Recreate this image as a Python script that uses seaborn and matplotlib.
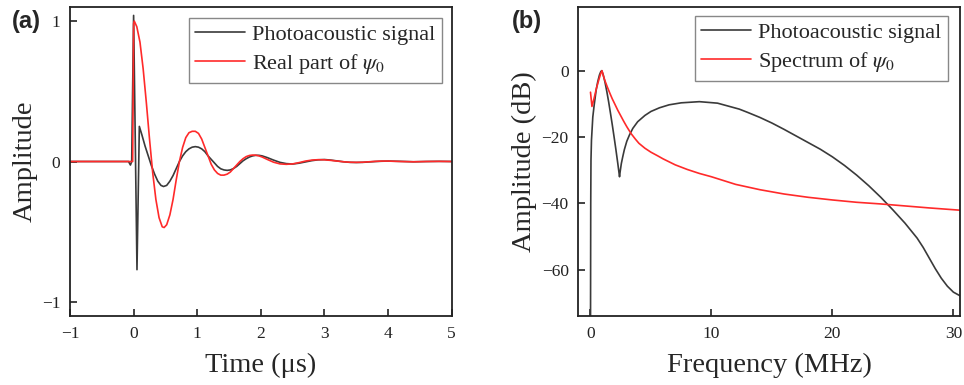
import numpy as np
import pandas as pd
import matplotlib
matplotlib.use("Agg")
import matplotlib.pyplot as plt
import seaborn as sns

# ---- (a) time-domain signals ----
t_pa = [-1.0, -0.08, -0.05, -0.03, 0.0, 0.053, 0.09, 0.13, 0.18, 0.23, 0.28, 0.33,
        0.38, 0.43, 0.47, 0.52, 0.57, 0.62, 0.67, 0.72, 0.77, 0.82, 0.87, 0.92,
        0.97, 1.02, 1.07, 1.12, 1.17, 1.22, 1.27, 1.32, 1.37, 1.42, 1.47, 1.52,
        1.57, 1.62, 1.67, 1.72, 1.77, 1.82, 1.87, 1.92, 1.97, 2.02, 2.1, 2.2,
        2.3, 2.4, 2.5, 2.6, 2.7, 2.8, 2.9, 3.0, 3.1, 3.2, 3.3, 3.4, 3.5, 3.6,
        3.7, 3.8, 3.9, 4.0, 4.2, 4.4, 4.6, 4.8, 5.0]
v_pa = [0.0, 0.0, -0.025, 0.0, 1.04, -0.77, 0.25, 0.19, 0.11, 0.04, -0.03, -0.09,
        -0.14, -0.17, -0.178, -0.17, -0.14, -0.10, -0.05, 0.0, 0.04, 0.07, 0.09, 0.102,
        0.106, 0.102, 0.09, 0.07, 0.04, 0.015, -0.01, -0.035, -0.052, -0.06, -0.063, -0.06,
        -0.05, -0.035, -0.015, 0.005, 0.02, 0.032, 0.04, 0.044, 0.044, 0.04, 0.028, 0.01,
        -0.006, -0.015, -0.018, -0.012, -0.003, 0.006, 0.012, 0.014, 0.01, 0.004, -0.002, -0.006, -0.007, -0.006,
        -0.003, 0.0, 0.002, 0.003, 0.001, -0.002, 0.0, 0.001, 0.0]

t_psi = [-1.0, -0.015, 0.0, 0.01, 0.05, 0.10, 0.15, 0.20, 0.25, 0.30, 0.35, 0.40,
         0.45, 0.48, 0.52, 0.57, 0.62, 0.67, 0.72, 0.77, 0.82, 0.87, 0.92, 0.97,
         1.02, 1.07, 1.12, 1.17, 1.22, 1.27, 1.32, 1.37, 1.42, 1.47, 1.52, 1.57,
         1.62, 1.67, 1.72, 1.77, 1.82, 1.87, 1.92, 1.97, 2.02, 2.1, 2.2, 2.3,
         2.4, 2.5, 2.6, 2.7, 2.8, 2.9, 3.0, 3.1, 3.2, 3.3, 3.4, 3.5, 3.6, 3.7,
         3.8, 3.9, 4.0, 4.2, 4.4, 4.6, 4.8, 5.0]
v_psi = [0.0, 0.0, 0.98, 1.0, 0.96, 0.85, 0.66, 0.42, 0.16, -0.08, -0.27, -0.40,
         -0.465, -0.47, -0.45, -0.38, -0.27, -0.13, 0.0, 0.10, 0.17, 0.205, 0.215, 0.215,
         0.20, 0.16, 0.10, 0.04, -0.02, -0.06, -0.085, -0.097, -0.097, -0.09, -0.075, -0.05,
         -0.025, 0.0, 0.02, 0.035, 0.043, 0.046, 0.045, 0.04, 0.032, 0.015, -0.005, -0.017,
         -0.02, -0.017, -0.008, 0.003, 0.01, 0.013, 0.012, 0.008, 0.003, -0.002, -0.005, -0.006, -0.005, -0.002,
         0.001, 0.003, 0.003, 0.0, -0.002, 0.0, 0.001, 0.0]

# ---- (b) spectra ----
f_pa = [0.0, 0.02, 0.04, 0.08, 0.19, 0.3, 0.47, 0.6, 0.74, 0.85, 0.93, 1.05, 1.2,
        1.35, 1.5, 1.65, 1.8, 1.95, 2.1, 2.25, 2.4, 2.45, 2.55, 2.67, 2.8, 3.0,
        3.22, 3.5, 3.9, 4.5, 5.0, 5.7, 6.5, 7.5, 9.0, 10.5, 12.3, 13.0, 14.0,
        15.0, 16.0, 17.0, 18.0, 19.0, 20.0, 21.0, 22.0, 23.0, 24.0, 25.0, 26.0,
        27.0, 27.5, 28.0, 28.5, 29.0, 29.5, 30.0, 30.6]
db_pa = [-80, -40, -27, -21, -14, -10.5, -5.8, -3.3, -1.3, -0.3, 0.0, -1.2, -3.5,
         -6.3, -9.4, -12.8, -16.3, -20.0, -23.8, -27.8, -32.0, -30.5, -28.0, -25.9, -23.8, -21.3,
         -19.4, -17.4, -15.4, -13.5, -12.3, -11.2, -10.3, -9.7, -9.35, -9.8, -11.6, -12.6, -14.1,
         -15.8, -17.7, -19.7, -21.7, -23.7, -26.0, -28.6, -31.5, -34.7, -38.2, -42.0, -46.0,
         -50.5, -53.3, -56.5, -59.7, -62.6, -65.0, -66.8, -68.0]

f_psi = [0.0, 0.12, 0.3, 0.5, 0.7, 0.85, 0.95, 1.05, 1.2, 1.4, 1.6, 1.8, 2.0, 2.25,
         2.5, 2.75, 3.0, 3.36, 3.7, 4.0, 4.5, 5.0, 5.56, 6.0, 7.0, 8.0, 9.0,
         10.0, 12.0, 14.0, 16.0, 18.0, 20.0, 22.0, 24.0, 26.0, 28.0, 30.6]
db_psi = [-6.5, -10.8, -8.3, -5.2, -2.6, -0.8, 0.0, -1.4, -3.1, -5.0, -6.8, -8.5, -10.0, -11.9,
          -13.6, -15.3, -16.9, -19.0, -20.6, -21.9, -23.4, -24.6, -25.7, -26.6, -28.4, -29.8, -31.0,
          -32.0, -34.3, -35.9, -37.2, -38.2, -39.0, -39.7, -40.2, -40.8, -41.4, -42.1]

BLACK = "#3a3a3a"
RED = "#ff2a2a"

sns.set_theme(style="ticks")
plt.rcParams.update({
    "font.family": ["Liberation Serif", "DejaVu Serif"],
    "mathtext.fontset": "stix",
    "axes.linewidth": 1.3,
    "axes.edgecolor": "#222222",
    "xtick.direction": "in",
    "ytick.direction": "in",
    "xtick.major.size": 5,
    "ytick.major.size": 5,
    "xtick.major.width": 1.2,
    "ytick.major.width": 1.2,
    "xtick.labelsize": 12.5,
    "ytick.labelsize": 12.5,
    "xtick.color": "#222222",
    "ytick.color": "#222222",
})

fig = plt.figure(figsize=(9.64, 3.85), dpi=100)
ax1 = fig.add_axes([0.0726, 0.1792, 0.396, 0.8026])
ax2 = fig.add_axes([0.6000, 0.1792, 0.3959, 0.8026])

df_a1 = pd.DataFrame({"t": t_pa, "v": v_pa})
df_a2 = pd.DataFrame({"t": t_psi, "v": v_psi})
sns.lineplot(data=df_a1, x="t", y="v", ax=ax1, color=BLACK, lw=1.2, sort=False,
             estimator=None, label="Photoacoustic signal")
sns.lineplot(data=df_a2, x="t", y="v", ax=ax1, color=RED, lw=1.2, sort=False,
             estimator=None, label=r"Real part of $\psi_0$")
ax1.set_xlim(-1, 5)
ax1.set_ylim(-1.1, 1.1)
ax1.set_xticks([-1, 0, 1, 2, 3, 4, 5])
ax1.set_yticks([-1, 0, 1])
ax1.set_xlabel("Time (μs)", fontsize=20.5, labelpad=8)
ax1.set_ylabel("Amplitude", fontsize=20.5, labelpad=3)

df_b1 = pd.DataFrame({"f": f_pa, "db": db_pa})
df_b2 = pd.DataFrame({"f": f_psi, "db": db_psi})
sns.lineplot(data=df_b1, x="f", y="db", ax=ax2, color=BLACK, lw=1.2, sort=False,
             estimator=None, label="Photoacoustic signal")
sns.lineplot(data=df_b2, x="f", y="db", ax=ax2, color=RED, lw=1.2, sort=False,
             estimator=None, label=r"Spectrum of $\psi_0$")
ax2.set_xlim(-1, 30.55)
ax2.set_ylim(-74, 19.2)
ax2.set_xticks([0, 10, 20, 30])
ax2.set_yticks([-60, -40, -20, 0])
ax2.set_xlabel("Frequency (MHz)", fontsize=20.5, labelpad=8)
ax2.set_ylabel("Amplitude (dB)", fontsize=20.5, labelpad=3)

for ax in (ax1, ax2):
    ax.tick_params(axis="both", pad=7)

leg_kw = dict(loc="upper right", fontsize=16, frameon=True, fancybox=False,
              framealpha=1, edgecolor="#888888", handlelength=2.25,
              handletextpad=0.3, labelspacing=0.3, borderpad=0.3,
              borderaxespad=0)
leg1 = ax1.legend(bbox_to_anchor=(0.9746, 0.9644), **leg_kw)
leg2 = ax2.legend(bbox_to_anchor=(0.9686, 0.971), **leg_kw)
for leg in (leg1, leg2):
    leg.get_frame().set_linewidth(1.0)

fig.text(0.012, 0.975, "(a)", fontsize=17, fontweight="bold",
         family="Liberation Sans", va="top", ha="left")
fig.text(0.531, 0.975, "(b)", fontsize=17, fontweight="bold",
         family="Liberation Sans", va="top", ha="left")

fig.savefig("out.png", dpi=100)
